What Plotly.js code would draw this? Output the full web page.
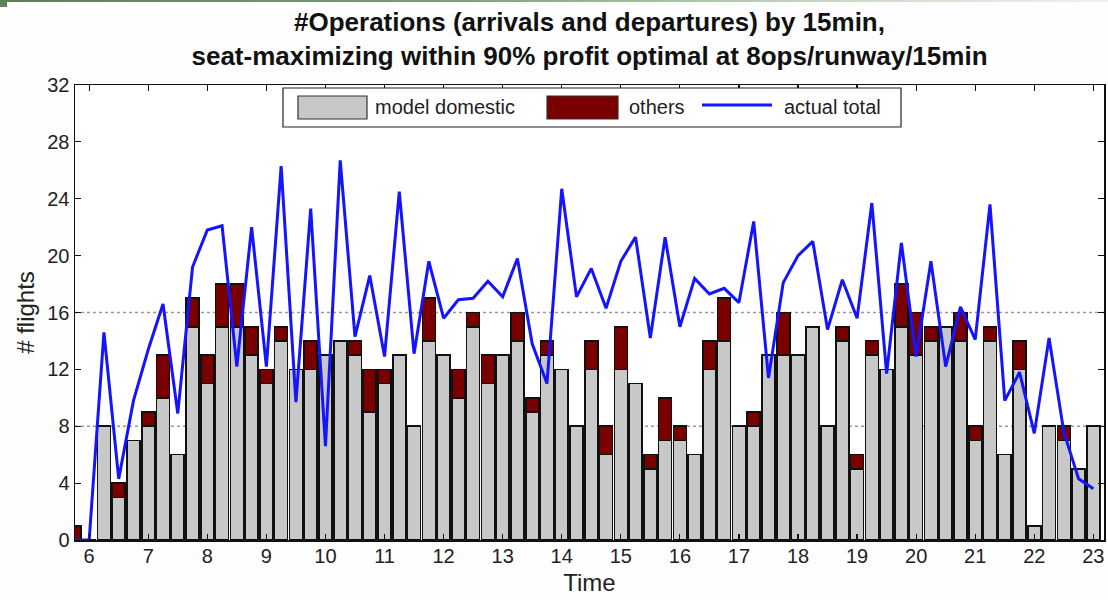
<!DOCTYPE html>
<html>
<head>
<meta charset="utf-8">
<script src="https://cdn.plot.ly/plotly-3.0.1.min.js"></script>
<style>
  html, body { margin: 0; padding: 0; background: #fefefe; }
  #wrap { position: relative; width: 1108px; height: 600px; }
  #chart { width: 1108px; height: 600px; }
  #band { position: absolute; left: 0; top: 0; width: 1108px; height: 2px;
          background: linear-gradient(to right, #5a7e5a 0%, #7f9c7c 40%, #c9d8c6 75%, #eef3ec 100%); z-index: 5; }
  #corner { position: absolute; left: 0; top: 0; width: 7px; height: 7px; background: #5d815c; z-index: 5; }
</style>
</head>
<body>
<div id="wrap">
  <div id="band"></div>
  <div id="corner"></div>
  <div id="chart"></div>
</div>
<script>
// 15-minute slots (hour of day)
const slots = [
  5.75, 6.00, 6.25, 6.50, 6.75, 7.00, 7.25, 7.50, 7.75, 8.00, 8.25, 8.50, 8.75,
  9.00, 9.25, 9.50, 9.75, 10.00, 10.25, 10.50, 10.75, 11.00, 11.25, 11.50, 11.75,
  12.00, 12.25, 12.50, 12.75, 13.00, 13.25, 13.50, 13.75, 14.00, 14.25, 14.50, 14.75,
  15.00, 15.25, 15.50, 15.75, 16.00, 16.25, 16.50, 16.75, 17.00, 17.25, 17.50, 17.75,
  18.00, 18.25, 18.50, 18.75, 19.00, 19.25, 19.50, 19.75, 20.00, 20.25, 20.50, 20.75,
  21.00, 21.25, 21.50, 21.75, 22.00, 22.25, 22.50, 22.75, 23.00
];

// modelled domestic operations per slot
const modelDomestic = [
  0, 0, 8, 3, 7, 8, 10, 6, 15, 11, 15, 15, 13,
  11, 14, 12, 12, 13, 14, 13, 9, 11, 13, 8, 14,
  13, 10, 15, 11, 13, 14, 9, 13, 12, 8, 12, 6,
  12, 11, 5, 7, 7, 6, 12, 14, 8, 8, 13, 13,
  13, 15, 8, 14, 5, 13, 12, 15, 13, 14, 15, 14,
  7, 14, 6, 12, 1, 8, 7, 5, 8
];

// other operations stacked on top
const others = [
  1, 0, 0, 1, 0, 1, 3, 0, 2, 2, 3, 3, 2,
  1, 1, 0, 2, 0, 0, 1, 3, 1, 0, 0, 3,
  0, 2, 1, 2, 0, 2, 1, 1, 0, 0, 2, 2,
  3, 0, 1, 3, 1, 0, 2, 3, 0, 1, 0, 3,
  0, 0, 0, 1, 1, 1, 0, 3, 3, 1, 0, 2,
  1, 1, 0, 2, 0, 0, 1, 0, 0
];

// actual total operations per slot
const actualTotal = [
  0, 0, 14.6, 4.3, 9.8, 13.4, 16.6, 8.9, 19.2, 21.8, 22.1, 12.2, 22.0,
  12.2, 26.3, 9.7, 23.3, 6.6, 26.7, 14.3, 18.6, 12.9, 24.5, 13.1, 19.6,
  15.6, 16.9, 17.0, 18.2, 17.1, 19.8, 13.8, 11.0, 24.7, 17.1, 19.1, 16.3,
  19.6, 21.3, 14.2, 21.3, 15.0, 18.4, 17.3, 17.7, 16.7, 22.4, 11.4, 18.1,
  20.0, 21.0, 14.8, 18.3, 15.6, 23.7, 11.7, 20.9, 12.9, 19.6, 12.2, 16.4,
  14.1, 23.6, 9.8, 11.8, 7.5, 14.2, 7.6, 4.3, 3.6
];

const hourTicks = [6, 7, 8, 9, 10, 11, 12, 13, 14, 15, 16, 17, 18, 19, 20, 21, 22, 23];
const flightTicks = [0, 4, 8, 12, 16, 20, 24, 28, 32];
const refLevels = [8, 16];
const seriesNames = ['model domestic', 'others', 'actual total'];

const FONT = 'Liberation Sans, Arial, sans-serif';
const GRAY = '#c8c8c8', DARKRED = '#7a0000', BLUE = '#1414ff';

// plot-area geometry (pixels) used to place the hand-drawn legend box
const M = { l: 75, r: 4, t: 85, b: 60 };
const W = 1108, H = 600;
const pw = W - M.l - M.r, ph = H - M.t - M.b;
const px = v => (v - M.l) / pw;
const py = v => (H - M.b - v) / ph;

const traces = [
  { type: 'bar', name: seriesNames[0], x: slots, y: modelDomestic, width: 0.22,
    marker: { color: GRAY, line: { color: '#111', width: 1.6 } }, showlegend: false },
  { type: 'bar', name: seriesNames[1], x: slots, y: others, width: 0.22,
    marker: { color: DARKRED, line: { color: '#111', width: 1.6 } }, showlegend: false },
  { type: 'scatter', mode: 'lines', name: seriesNames[2], x: slots, y: actualTotal,
    line: { color: BLUE, width: 3 }, showlegend: false }
];

const shapes = refLevels.map(v => ({
  type: 'line', xref: 'paper', x0: 0, x1: 1, yref: 'y', y0: v, y1: v,
  line: { color: '#9a9a9a', width: 1.4, dash: 'dot' }, layer: 'below'
}));

// legend frame and keys
shapes.push(
  { type: 'rect', xref: 'paper', yref: 'paper', x0: px(283), x1: px(901), y0: py(127), y1: py(88),
    line: { color: '#222', width: 1.2 }, fillcolor: '#ffffff', layer: 'above' },
  { type: 'rect', xref: 'paper', yref: 'paper', x0: px(298), x1: px(367), y0: py(119), y1: py(96),
    line: { color: '#333', width: 1.2 }, fillcolor: GRAY, layer: 'above' },
  { type: 'rect', xref: 'paper', yref: 'paper', x0: px(547), x1: px(618), y0: py(119), y1: py(96),
    line: { color: '#333', width: 1.2 }, fillcolor: DARKRED, layer: 'above' },
  { type: 'line', xref: 'paper', yref: 'paper', x0: px(702), x1: px(772), y0: py(105), y1: py(105),
    line: { color: BLUE, width: 3 }, layer: 'above' }
);

const legendText = [[373, seriesNames[0]], [627, seriesNames[1]], [782, seriesNames[2]]];
const annotations = legendText.map(([x, t]) => ({
  xref: 'paper', yref: 'paper', x: px(x), y: py(107), xanchor: 'left', yanchor: 'middle',
  text: t, showarrow: false, font: { family: FONT, size: 20, color: '#222' }
}));

const layout = {
  width: W, height: H,
  margin: M,
  paper_bgcolor: '#fefefe', plot_bgcolor: '#ffffff',
  barmode: 'stack', bargap: 0,
  title: {
    text: '#Operations (arrivals and departures) by 15min,<br>seat-maximizing within 90% profit optimal at 8ops/runway/15min',
    font: { family: FONT, size: 26, color: '#111', weight: 'bold' },
    x: 0.5, xref: 'paper', xanchor: 'center',
    y: 1 - 31 / H, yref: 'container', yanchor: 'middle'
  },
  xaxis: {
    range: [5.76, 23.18], tickmode: 'array', tickvals: hourTicks, ticktext: hourTicks.map(String),
    ticks: 'inside', ticklen: 6, tickcolor: '#111', tickwidth: 1.2,
    showline: true, linecolor: '#111', linewidth: 1.5, mirror: 'ticks',
    showgrid: false, zeroline: false, ticklabelstandoff: -3,
    tickfont: { family: FONT, size: 20, color: '#222' },
    title: { text: 'Time', font: { family: FONT, size: 24, color: '#222' }, standoff: 8 }
  },
  yaxis: {
    range: [0, 32], tickmode: 'array', tickvals: flightTicks, ticktext: flightTicks.map(String),
    ticks: 'inside', ticklen: 6, tickcolor: '#111', tickwidth: 1.2,
    showline: true, linecolor: '#111', linewidth: 1.5, mirror: 'ticks',
    showgrid: false, zeroline: false,
    tickfont: { family: FONT, size: 20, color: '#222' },
    title: { text: '# flights', font: { family: FONT, size: 24, color: '#222' }, standoff: 6 }
  },
  shapes: shapes,
  annotations: annotations
};

Plotly.newPlot('chart', traces, layout, { staticPlot: true, displayModeBar: false });
</script>
</body>
</html>
